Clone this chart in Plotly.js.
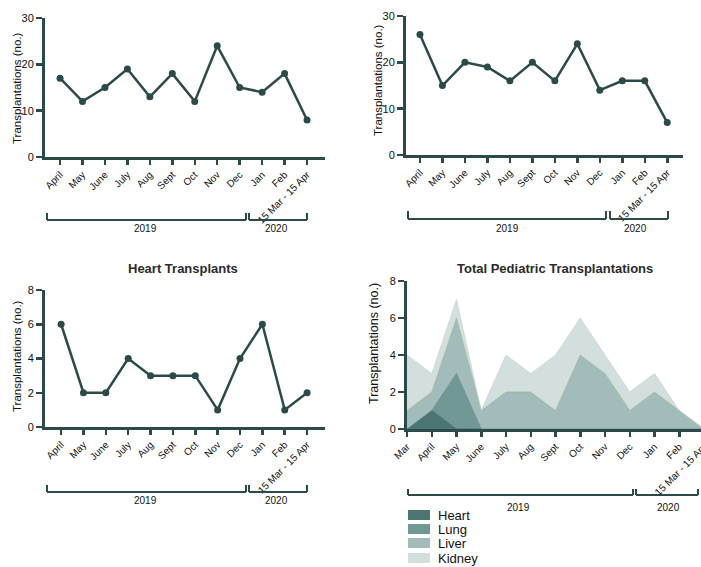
<!DOCTYPE html>
<html>
<head>
<meta charset="utf-8">
<script src="https://cdn.plot.ly/plotly-3.0.1.min.js"></script>
<style>
html,body{margin:0;padding:0;overflow:hidden;background:#fff;}
#chart{width:730px;height:567px;}
</style>
</head>
<body>
<div id="chart"></div>
<script>
// ---- data ----
var months = ['April','May','June','July','Aug','Sept','Oct','Nov','Dec','Jan','Feb','15 Mar - 15 Apr'];
var totalA = [17,12,15,19,13,18,12,24,15,14,18,8];
var totalB = [26,15,20,19,16,20,16,24,14,16,16,7];
var heartTx = [6,2,2,4,3,3,3,1,4,6,1,2];
var pedMonths = ['Mar','April','May','June','July','Aug','Sept','Oct','Nov','Dec','Jan','Feb','15 Mar - 15 Apr'];
var pedHeart  = [0,1,0,0,0,0,0,0,0,0,0,0,0];
var pedLung   = [0,0,3,0,0,0,0,0,0,0,0,0,0];
var pedLiver  = [1,1,3,1,2,2,1,4,3,1,2,1,0];
var pedKidney = [3,1,1,0,2,1,3,2,1,1,1,0,0];
var organs = ['Heart','Lung','Liver','Kidney'];
var organColors = ['#4b7571','#729896','#a2bbbb','#d3dfde'];
var yearLabels = ['2019','2020'];

// ---- layout helpers ----
var W = 730, H = 567;
function px(x){ return x / W; }
function py(y){ return 1 - y / H; }
var dark = '#2c4a4a';
var font = 'Liberation Sans, Arial, sans-serif';

function xax(x0, x1, r, labels){
  return {domain:[px(x0), px(x1)], range:r, type:'category', showline:true, linecolor:dark, linewidth:3,
    ticks:'outside', ticklen:5, tickwidth:2.5, tickcolor:dark, tickangle:-45, showgrid:false, zeroline:false,
    tickfont:{family:font, size:10, color:'#111'}, fixedrange:true, automargin:false, categoryorder:'array', categoryarray:labels};
}
function yax(y0, y1, r, dt){
  return {domain:[py(y1), py(y0)], range:r, showline:true, linecolor:dark, linewidth:3, ticks:'outside', ticklen:6,
    tickwidth:2.5, tickcolor:dark, dtick:dt, tick0:0, showgrid:false, zeroline:false,
    tickfont:{family:font, size:11, color:'#111'}, automargin:false};
}

var lineStyle = {color:dark, width:2.5};
var markerStyle = {color:dark, size:7};
var traces = [
  {x:months, y:totalA, xaxis:'x', yaxis:'y', mode:'lines+markers', line:lineStyle, marker:markerStyle, showlegend:false},
  {x:months, y:totalB, xaxis:'x2', yaxis:'y2', mode:'lines+markers', line:lineStyle, marker:markerStyle, showlegend:false},
  {x:months, y:heartTx, xaxis:'x3', yaxis:'y3', mode:'lines+markers', line:lineStyle, marker:markerStyle, showlegend:false}
];
var pedSeries = [pedHeart, pedLung, pedLiver, pedKidney];
var edge = ['#3b605c','#5f8482','#9ab58f','#c4d4d3'];
for (var i = 0; i < 4; i++){
  traces.push({x:pedMonths, y:pedSeries[i], name:organs[i], xaxis:'x4', yaxis:'y4', mode:'lines',
    stackgroup:'ped', fillcolor:organColors[i], line:{color:edge[i], width:0.7}, showlegend:false});
}

var shapes = [], annotations = [];
function ann(x, y, text, size, extra){
  var a = {xref:'paper', yref:'paper', x:px(x), y:py(y), text:text, showarrow:false, xanchor:'center', yanchor:'middle',
    font:{family:font, size:size, color:'#111'}};
  if (extra) for (var k in extra) a[k] = extra[k];
  annotations.push(a);
}
function bracket(xL, b1, b2, xR, yLine, yTop, tx1, tx2, yText){
  function L(a,b,c,d){ shapes.push({type:'line', xref:'paper', yref:'paper', x0:px(a), y0:py(b), x1:px(c), y1:py(d), line:{color:dark, width:2}}); }
  L(xL, yLine, b1, yLine); L(xL, yTop, xL, yLine); L(b1, yTop, b1, yLine);
  L(b2, yLine, xR, yLine); L(b2, yTop, b2, yLine); L(xR, yTop, xR, yLine);
  ann(tx1, yText, yearLabels[0], 10);
  ann(tx2, yText, yearLabels[1], 10);
}
bracket(47, 246, 249, 307, 220, 213, 145, 276, 229);
bracket(408, 606, 610, 668, 219, 211, 507, 635, 228);
bracket(47, 246, 249, 307, 492, 485, 145, 276, 500);
bracket(408, 633, 636, 698, 495, 489, 518, 668, 507);

ann(17, 88, 'Transplantations (no.)', 11.5, {textangle:-90});
ann(378, 80, 'Transplantations (no.)', 11.5, {textangle:-90});
ann(17, 356, 'Transplantations (no.)', 11.5, {textangle:-90});
ann(374, 344, 'Transplantations (no.)', 12.5, {textangle:-90});

ann(183, 268, '<b>Heart Transplants</b>', 13, {font:{family:font, size:13, color:'#2b2b2b'}});
ann(555, 268, '<b>Total Pediatric Transplantations</b>', 13, {font:{family:font, size:13, color:'#2b2b2b'}});

// custom legend
var legY = [515, 529, 543, 558];
for (var j = 0; j < 4; j++){
  shapes.push({type:'rect', xref:'paper', yref:'paper', x0:px(408), x1:px(430), y0:py(legY[j]+5), y1:py(legY[j]-5),
    fillcolor:organColors[j], line:{width:0}});
  ann(436, legY[j], organs[j], 13, {xanchor:'left'});
}

var layout = {
  width:W, height:H, margin:{l:0,r:0,t:0,b:0}, paper_bgcolor:'#fff', plot_bgcolor:'rgba(0,0,0,0)', showlegend:false,
  xaxis: xax(45, 325, [-0.67, 11.8], months),
  yaxis: yax(18, 157, [0, 30], 10),
  xaxis2: Object.assign(xax(406, 683, [-0.62, 11.7], months), {anchor:'y2'}),
  yaxis2: Object.assign(yax(16, 155, [0, 30], 10), {anchor:'x2'}),
  xaxis3: Object.assign(xax(45, 325, [-0.72, 11.8], months), {anchor:'y3'}),
  yaxis3: Object.assign(yax(290, 427, [0, 8], 2), {anchor:'x3'}),
  xaxis4: Object.assign(xax(407, 730, [0, 13.05], pedMonths), {anchor:'y4'}),
  yaxis4: Object.assign(yax(281, 429, [0, 8], 2), {anchor:'x4'}),
  shapes:shapes, annotations:annotations
};
layout.xaxis.anchor = 'y'; layout.yaxis.anchor = 'x';
Plotly.newPlot('chart', traces, layout, {staticPlot:true, displayModeBar:false});
</script>
</body>
</html>
